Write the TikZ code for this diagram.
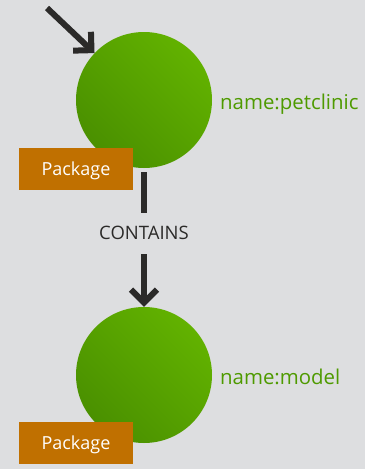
\documentclass[tikz,border=0pt]{standalone}
\usepackage{fontspec}
\setmainfont{Open Sans}
\usetikzlibrary{arrows.meta}
\definecolor{bg}{HTML}{DDDEE0}
\definecolor{nodelight}{HTML}{62B200}
\definecolor{nodedark}{HTML}{4A9000}
\definecolor{pkg}{HTML}{C07000}
\definecolor{lbl}{HTML}{4E9A00}
\definecolor{relc}{HTML}{2B2A29}
\begin{document}
\begin{tikzpicture}[x=1pt,y=-1pt]
		\tikzstyle{graphnode}=[circle,minimum size=136pt,inner sep=0pt,bottom color=nodedark,top color=nodelight,shading angle=-45]
		\tikzstyle{tag}=[fill=pkg,text=white,minimum width=114pt,minimum height=42pt,inner sep=0pt,text height=13pt,text depth=0pt,font=\fontsize{18}{20}\selectfont]
		\tikzstyle{prop}=[anchor=base west,inner sep=0pt,text=lbl,font=\fontsize{20.4}{24}\selectfont]
		\tikzstyle{rel}=[->,>={Straight Barb[length=13pt,width=26pt]},line width=6pt,draw=relc]
		\fill[bg] (0,0) rectangle (365,469);
		
		\node[graphnode](pc) at (144,100){};
		\node[graphnode](md) at (144,375){};
		
		\node[tag](pc-tag) at (76,169){Package};
		\node[tag](md-tag) at (76,442.5){Package};
		
		\node[prop](pc-name) at (220,109){name:petclinic};
		\node[prop](md-name) at (220,384){name:model};
		
		\coordinate (in) at (47,8);
		\path (in) edge[rel] (pc);
		\path (pc) edge[rel,shorten <=4pt] node[pos=0.47,fill=bg,inner xsep=2pt,inner ysep=14pt,text=relc,font=\fontsize{18.5}{22}\selectfont]{CONTAINS} (md);
\end{tikzpicture}
\end{document}
